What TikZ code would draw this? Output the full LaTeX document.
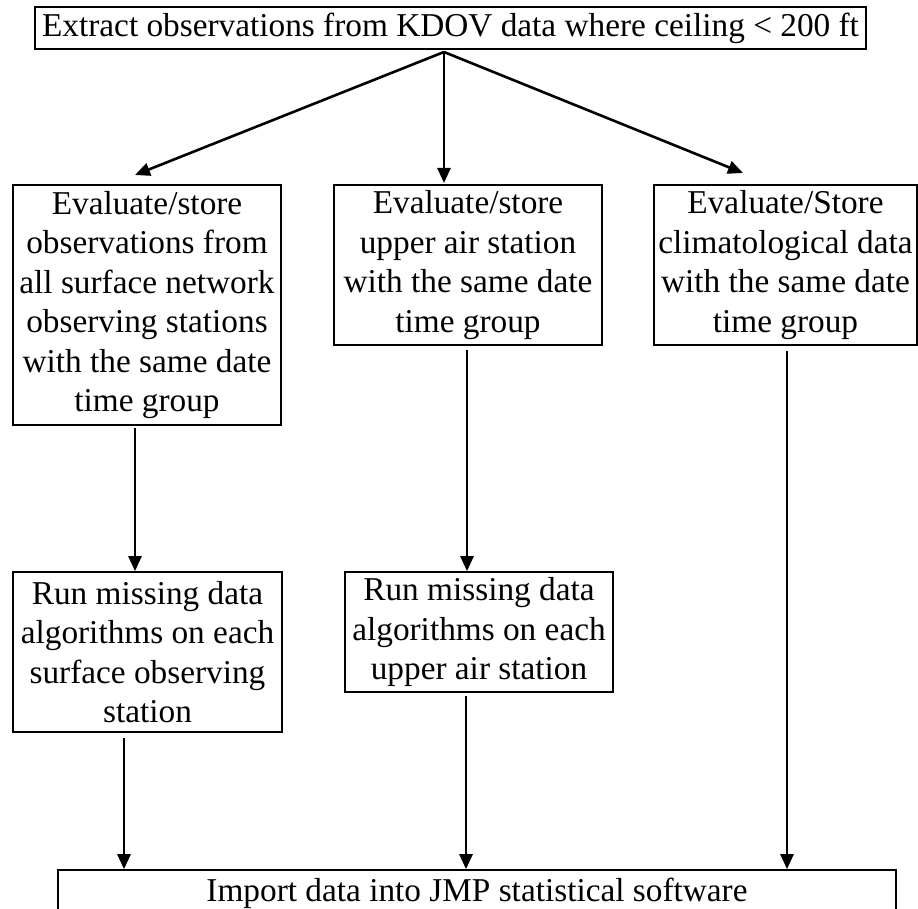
\documentclass[tikz,border=0pt]{standalone}
\usepackage{fontspec}
\setmainfont{Liberation Serif}
\usetikzlibrary{arrows.meta}
\begin{document}
\begin{tikzpicture}[x=1pt,y=-1pt,
  box/.style={draw, line width=1.6pt, inner sep=0pt, align=center,
    font=\fontsize{33.3}{39.4}\selectfont},
  arr/.style={-{Triangle[length=15pt,width=13pt]}, line width=2.6pt}]
\useasboundingbox (0,0) rectangle (918,909);
\node[box, minimum width=831pt, minimum height=42pt] (top) at (450.5,28)
  {Extract observations from KDOV data where ceiling < 200 ft};
\node[box, minimum width=268pt, minimum height=240pt] (b1) at (147,305)
  {Evaluate/store\\observations from\\all surface network\\observing stations\\with the same date\\time group};
\node[box, minimum width=268pt, minimum height=160pt] (b2) at (468,265)
  {Evaluate/store\\upper air station\\with the same date\\time group};
\node[box, minimum width=263pt, minimum height=160pt] (b3) at (785.5,265)
  {Evaluate/Store\\climatological data\\with the same date\\time group};
\node[box, minimum width=269pt, minimum height=160pt] (b4) at (147.5,652)
  {Run missing data\\algorithms on each\\surface observing\\station};
\node[box, minimum width=268pt, minimum height=120pt] (b5) at (479,632)
  {Run missing data\\algorithms on each\\upper air station};
\node[box, minimum width=838pt, minimum height=46pt] (bot) at (477,893)
  {Import data into JMP statistical software};
\coordinate (apex) at (444,52);
\coordinate (t1) at (135,175);
\coordinate (t2) at (444,183);
\coordinate (t3) at (743,173);
\draw[arr] (apex) -- (t1);
\draw[arr] (apex) -- (t2);
\draw[arr] (apex) -- (t3);
\draw[arr] ([xshift=-12pt,yshift=-2pt]b1.south) coordinate (s1) -- (s1 |- b4.north);
\draw[arr] ([xshift=-1pt,yshift=-4pt]b2.south) coordinate (s2) -- (s2 |- b5.north);
\draw[arr] ([xshift=-23.5pt,yshift=-5pt]b4.south) coordinate (s4) -- (s4 |- bot.north);
\draw[arr] ([xshift=-13pt,yshift=-3pt]b5.south) coordinate (s5) -- (s5 |- bot.north);
\draw[arr] ([xshift=1.5pt,yshift=-5pt]b3.south) coordinate (s3) -- (s3 |- bot.north);
\end{tikzpicture}
\end{document}
